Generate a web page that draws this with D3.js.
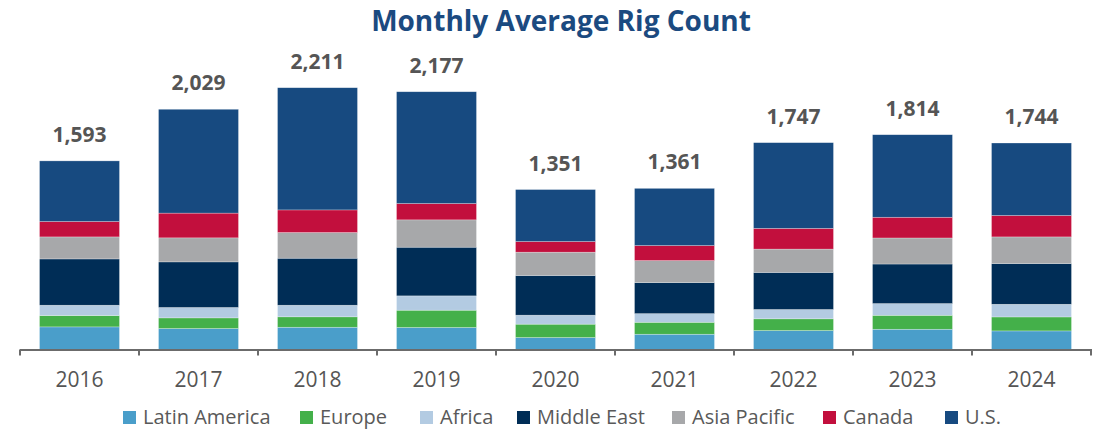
<!DOCTYPE html>
<html>
<head>
<meta charset="utf-8">
<script src="https://cdn.jsdelivr.net/npm/d3@7"></script>
<style>
  body { margin: 0; background: #fff; }
  svg { display: block; font-family: 'Open Sans', Lato, sans-serif; }
</style>
</head>
<body>
<svg width="1099" height="429"></svg>
<script>
(function (d3) {
  'use strict';

  const years = ['2016', '2017', '2018', '2019', '2020', '2021', '2022', '2023', '2024'];
  const regions = ['Latin America', 'Europe', 'Africa', 'Middle East', 'Asia Pacific', 'Canada', 'U.S.'];

  const latinAmerica = [191, 177, 188, 186, 101, 129, 160, 171, 157];
  const europe       = [96, 90, 88, 146, 113, 101, 99, 118, 118];
  const africa       = [87, 88, 98, 121, 76, 73, 79, 99, 107];
  const middleEast   = [391, 385, 397, 411, 335, 262, 313, 334, 344];
  const asiaPacific  = [186, 203, 217, 231, 197, 186, 197, 220, 225];
  const canada       = [130, 209, 191, 138, 90, 127, 175, 175, 181];
  const us           = [512, 877, 1032, 944, 439, 483, 724, 697, 612];

  const COLORS = ['#4a9eca', '#44b04a', '#b3cbe2', '#002d56', '#a7a8aa', '#c20f3d', '#174a80'];

  const series = [latinAmerica, europe, africa, middleEast, asiaPacific, canada, us];
  const rows = years.map((y, i) => {
    const r = { year: y };
    regions.forEach((k, j) => { r[k] = series[j][i]; });
    return r;
  });
  const totals = rows.map(r => d3.sum(regions, k => r[k]));

  const svg = d3.select('svg');
  const baseY = 349.5;

  const x = d3.scaleBand()
    .domain(years)
    .range([20, 1091])
    .paddingInner(0.328)
    .paddingOuter(0.164);

  const y = d3.scaleLinear()
    .domain([0, 2400])
    .range([baseY, baseY - 2400 * 0.1184]);

  const stacked = d3.stack().keys(regions)(rows);

  // title
  svg.append('text')
    .attr('x', 561)
    .attr('y', 31)
    .attr('text-anchor', 'middle')
    .attr('font-size', 28)
    .attr('font-weight', 'bold')
    .attr('fill', '#1b4a80')
    .text('Monthly Average Rig Count');

  // bars
  svg.append('g')
    .selectAll('g')
    .data(stacked)
    .join('g')
      .attr('fill', (d, i) => COLORS[i])
    .selectAll('rect')
    .data(d => d)
    .join('rect')
      .attr('x', d => x(d.data.year))
      .attr('y', d => y(d[1]))
      .attr('width', x.bandwidth())
      .attr('height', d => y(d[0]) - y(d[1]))
      .attr('stroke', '#ffffff')
      .attr('stroke-opacity', 0.45)
      .attr('stroke-width', 0.6);

  // total labels
  svg.append('g')
    .selectAll('text')
    .data(years)
    .join('text')
      .attr('x', d => x(d) + x.bandwidth() / 2)
      .attr('y', (d, i) => y(totals[i]) - 19)
      .attr('text-anchor', 'middle')
      .attr('font-size', 21)
      .attr('font-weight', 'bold')
      .attr('fill', '#555555')
      .text((d, i) => d3.format(',')(totals[i]));

  // x axis
  const axisG = svg.append('g');
  const half = x.step() * x.paddingInner() / 2;
  axisG.append('line')
    .attr('x1', 20).attr('x2', 1092)
    .attr('y1', baseY + 0.5).attr('y2', baseY + 0.5)
    .attr('stroke', '#6b6b6b')
    .attr('stroke-width', 2);
  const tickXs = years.map(d => x(d) - half).concat([x(years[years.length - 1]) + x.bandwidth() + half]);
  axisG.selectAll('.tick')
    .data(tickXs)
    .join('line')
      .attr('class', 'tick')
      .attr('x1', d => d).attr('x2', d => d)
      .attr('y1', baseY).attr('y2', baseY + 6)
      .attr('stroke', '#6b6b6b')
      .attr('stroke-width', 2);
  axisG.selectAll('.lbl')
    .data(years)
    .join('text')
      .attr('class', 'lbl')
      .attr('x', d => x(d) + x.bandwidth() / 2)
      .attr('y', 387)
      .attr('text-anchor', 'middle')
      .attr('font-size', 21)
      .attr('fill', '#555555')
      .text(d => d);

  // legend
  const legendX = [123, 300, 420, 517, 672, 823, 945];
  const legend = svg.append('g')
    .selectAll('g')
    .data(regions)
    .join('g')
      .attr('transform', (d, i) => `translate(${legendX[i]},424)`);
  legend.append('rect')
    .attr('x', 0).attr('y', -13)
    .attr('width', 13).attr('height', 13)
    .attr('fill', (d, i) => COLORS[i]);
  legend.append('text')
    .attr('x', 20)
    .attr('font-size', 20)
    .attr('fill', '#595959')
    .text(d => d);

}(d3));
</script>
</body>
</html>
